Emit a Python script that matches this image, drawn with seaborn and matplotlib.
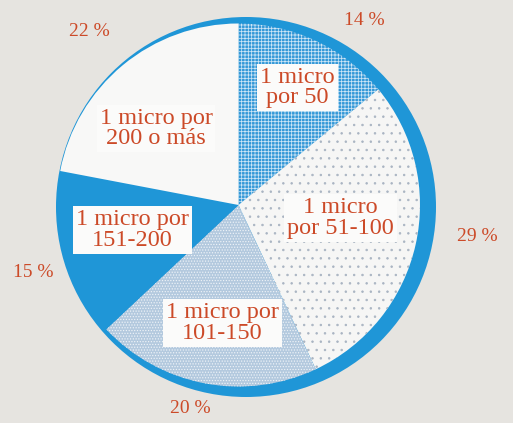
import numpy as np
import matplotlib
matplotlib.use("Agg")
import matplotlib.pyplot as plt
from matplotlib.patches import Circle
import seaborn as sns

# Share of schools by pupils per microcomputer
categories = ["1 micro\npor 50", "1 micro\npor 51-100", "1 micro por\n101-150",
              "1 micro por\n151-200", "1 micro por\n200 o más"]
shares = [14, 29, 20, 15, 22]
pct_labels = [f"{v} %" for v in shares]

sns.set_theme(style="white")
plt.rcParams["font.family"] = ["Liberation Serif", "DejaVu Serif"]
plt.rcParams["hatch.linewidth"] = 0.55

BLUE = "#1F96D7"
TEXT = "#CC4A28"
BG = "#E6E4E0"

W, H = 513, 423
fig = plt.figure(figsize=(W / 100, H / 100), dpi=100, facecolor=BG)
ax = fig.add_axes([0, 0, 1, 1])
ax.set_facecolor(BG)

# solid blue disc behind the pie, offset down-right
ax.add_patch(Circle((246, H - 207), 190, color=BLUE, zorder=1, lw=0))

center = (238.5, H - 205)
radius = 181.5
faces = ["#3398D7", "#F6F6F5", "#B3C9DE", BLUE, "#F8F8F7"]
hatches = ["+++++", "..", "......", None, None]
hatch_cols = ["#CDE6F6", "#A9B4C2", "#EEF3F8", BLUE, "#F8F8F7"]

wedges, _ = ax.pie(shares, startangle=90, counterclock=False,
                   center=center, radius=radius, frame=True,
                   wedgeprops=dict(linewidth=0))
for w, fc, h, hc in zip(wedges, faces, hatches, hatch_cols):
    w.set_facecolor(fc)
    w.set_edgecolor(hc)
    w.set_linewidth(0)
    w.set_zorder(2)
    if h:
        w.set_hatch(h)

ax.set_xlim(0, W)
ax.set_ylim(0, H)
ax.set_aspect("equal")
ax.axis("off")

# label placement: radial factor and angular nudge per slice
in_r = [0.725, 0.565, 0.655, 0.60, 0.62]
in_da = [-1.4, 5.3, 3.0, -3.0, 7.5]
out_r = [1.23, 1.33, 1.15, 1.19, 1.26]
out_da = [-9.0, 5.0, -2.5, 2.0, 1.0]

for w, cat, pct, ri, dai, ro, dao in zip(wedges, categories, pct_labels,
                                         in_r, in_da, out_r, out_da):
    mid = (w.theta1 + w.theta2) / 2
    a = np.deg2rad(mid + dai)
    ax.text(center[0] + radius * ri * np.cos(a), center[1] + radius * ri * np.sin(a),
            cat, ha="center", va="center", fontsize=17.5, color=TEXT,
            linespacing=0.98, zorder=4,
            bbox=dict(boxstyle="square,pad=0.12", fc="#FBFBFA", ec="none"))
    a = np.deg2rad(mid + dao)
    ax.text(center[0] + radius * ro * np.cos(a), center[1] + radius * ro * np.sin(a),
            pct, ha="center", va="center", fontsize=14, color=TEXT, zorder=4)

fig.savefig("out.png", dpi=100, facecolor=BG)
